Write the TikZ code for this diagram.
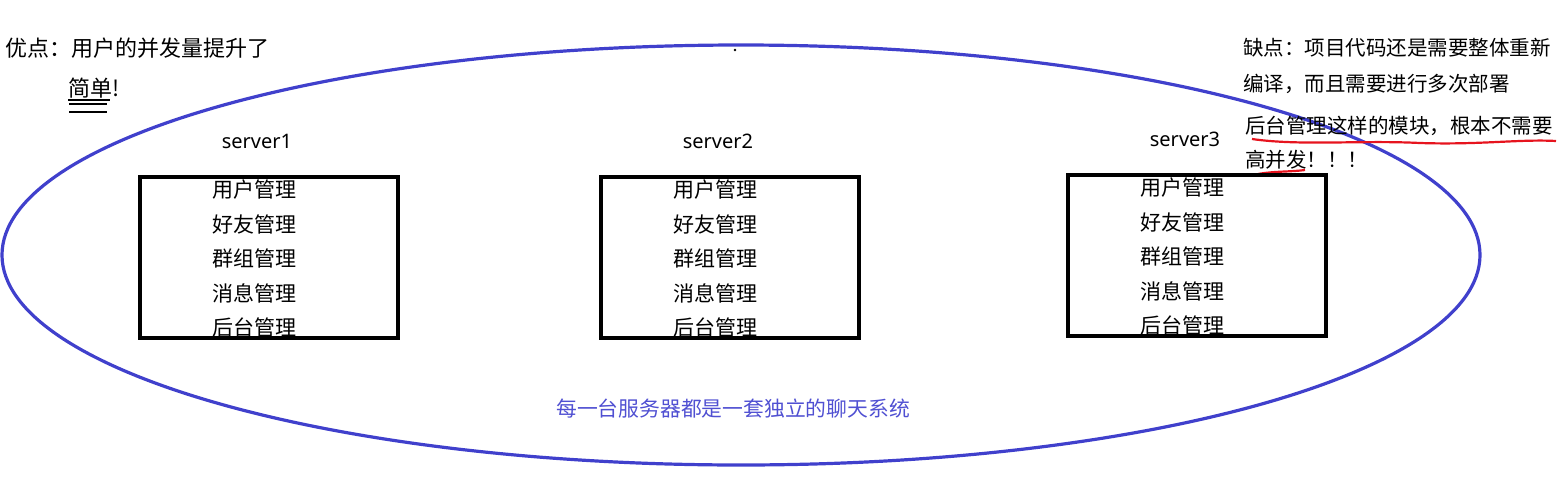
\documentclass[tikz,border=0pt]{standalone}
\usepackage{fontspec}
\setmainfont{Noto Sans}
\newfontfamily\cjk{Noto Sans CJK SC}
\definecolor{eblue}{RGB}{64,64,204}
\definecolor{tblue}{RGB}{80,80,210}
\definecolor{ured}{RGB}{230,20,30}
\begin{document}
\begin{tikzpicture}[x=1pt,y=-1pt,
  txt/.style={font=\cjk\fontsize{22}{22}\selectfont, inner sep=0pt, anchor=west},
  rtxt/.style={font=\cjk\fontsize{20.5}{21}\selectfont, inner sep=0pt, anchor=west},
  srv/.style={font=\fontsize{20}{20}\selectfont, inner sep=0pt},
  item/.style={font=\cjk\fontsize{21}{21}\selectfont, inner sep=0pt},
  sbox/.style={draw=black, line width=3.4pt}]
\useasboundingbox (0,0) rectangle (1566,485);
% ellipse
\draw[eblue, line width=3.2pt] (741,255) ellipse [x radius=739, y radius=210];
\fill (735,50) circle (1.3);
% left note
\node[txt] (pro) at (5,48) {优点：用户的并发量提升了};
\node[txt] (simple) at (68,88) {简单!};
\draw[line width=1.2pt] (68,100) -- (110,100);
\draw[line width=2.8pt] (69,104) -- (107,104);
\draw[line width=2.8pt] (69,112) -- (107,112);
% right note
\node[rtxt] (con1) at (1243,48) {缺点：项目代码还是需要整体重新};
\node[rtxt] (con2) at (1243,84) {编译，而且需要进行多次部署};
\node[rtxt] (con3) at (1245,126) {后台管理这样的模块，根本不需要};
\node[rtxt] (con4) at (1245,160) {高并发！！！};
\draw[ured, line width=2.2pt] (1252,139) .. controls (1300,146) and (1360,140) .. (1420,143) .. controls (1480,145) and (1520,139) .. (1556,141);
\draw[ured, line width=2.2pt] (1258,174) .. controls (1275,171) and (1290,172) .. (1305,170);
% servers
\foreach \i/\x/\y in {1/140/177, 2/601/177, 3/1068/175}{
  \node[srv] (s\i) at (\x+117,\y-36) {server\i};
  \draw[sbox] (\x,\y) rectangle (\x+258,\y+161);
  \node[item] (u\i) at (\x+114,\y+13) {用户管理};
  \node[item] (f\i) at (\x+114,\y+47) {好友管理};
  \node[item] (g\i) at (\x+114,\y+81) {群组管理};
  \node[item] (m\i) at (\x+114,\y+116) {消息管理};
  \node[item] (b\i) at (\x+114,\y+150) {后台管理};
}
\node[font=\cjk\fontsize{20.8}{21}\selectfont, text=tblue, inner sep=0pt] (cap) at (733,409) {每一台服务器都是一套独立的聊天系统};
\end{tikzpicture}
\end{document}
